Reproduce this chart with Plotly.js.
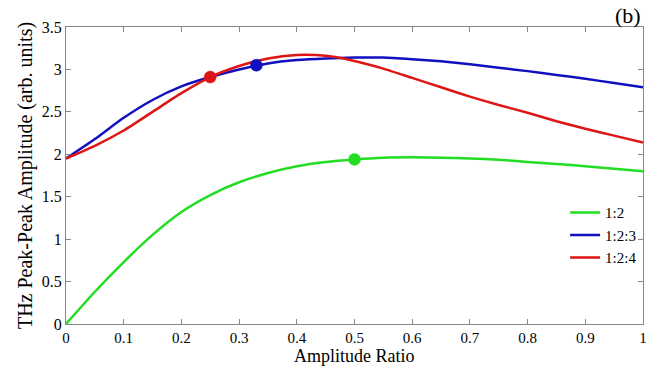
<!DOCTYPE html>
<html><head><meta charset="utf-8">
<script src="https://cdn.plot.ly/plotly-3.0.1.min.js"></script>
<style>html,body{margin:0;padding:0;background:#fff}#chart{width:669px;height:368px}</style>
</head><body><div id="chart"></div>
<script>
const ratio = [0,0.05,0.1,0.15,0.2,0.25,0.3,0.35,0.4,0.45,0.5,0.55,0.6,0.65,0.7,0.75,0.8,0.85,0.9,0.95,1.0];
const green12 = [0,0.38,0.73,1.05,1.32,1.52,1.67,1.78,1.86,1.91,1.94,1.96,1.965,1.96,1.95,1.935,1.91,1.885,1.86,1.83,1.80];
const blue123 = [1.95,2.18,2.43,2.64,2.80,2.91,3.00,3.07,3.11,3.13,3.14,3.14,3.12,3.095,3.06,3.02,2.98,2.935,2.89,2.84,2.79];
const red124 = [1.95,2.10,2.28,2.50,2.72,2.91,3.04,3.13,3.17,3.16,3.10,3.01,2.90,2.79,2.68,2.58,2.49,2.39,2.30,2.22,2.14];
const markX = [0.5,0.33,0.25];
const markY = [1.94,3.05,2.91];
const names = ['1:2','1:2:3','1:2:4'];
const colors = ['#22dd22','#1010c0','#dd1515'];
const series = [green12, blue123, red124];
const FONT = '"Liberation Serif", "Times New Roman", Times, serif';
const traces = [];
series.forEach((s,i)=>traces.push({x:ratio,y:s,name:names[i],mode:'lines',line:{color:colors[i],width:2.5,shape:'spline',smoothing:0.6}}));
series.forEach((s,i)=>traces.push({x:[markX[i]],y:[markY[i]],mode:'markers',showlegend:false,marker:{color:colors[i],size:12,line:{width:0.5,color:colors[i]}}}));
const ax = {showline:true,mirror:'ticks',linecolor:'#888',linewidth:1,ticks:'inside',ticklen:5,tickcolor:'#888',showgrid:false,zeroline:false,
  tickfont:{family:FONT,size:16,color:'#000'}};
Plotly.newPlot('chart',traces,{
  width:669,height:368,
  margin:{l:66,r:26,t:27,b:44},
  paper_bgcolor:'#fff',plot_bgcolor:'#fff',
  font:{family:FONT,color:'#000'},
  xaxis:Object.assign({},ax,{range:[0,1],dtick:0.1,tickfont:{family:FONT,size:15,color:'#000'}}),
  yaxis:Object.assign({},ax,{range:[0,3.5],dtick:0.5,title:{text:'THz Peak-Peak Amplitude (arb. units)',font:{family:FONT,size:20},standoff:3}}),
  showlegend:true,
  legend:{x:0.865,y:0.43,xanchor:'left',yanchor:'top',bgcolor:'rgba(0,0,0,0)',font:{family:FONT,size:15},tracegroupgap:0,itemwidth:30},
  annotations:[
    {text:'(b)',xref:'paper',yref:'paper',x:1.0,y:1.0,xanchor:'right',yanchor:'bottom',showarrow:false,font:{family:FONT,size:22},yshift:-3},
    {text:'Amplitude Ratio',xref:'paper',yref:'paper',x:0.5,y:0,yshift:-43,xanchor:'center',yanchor:'bottom',showarrow:false,borderpad:0,font:{family:FONT,size:18}}
  ]
},{displayModeBar:false,staticPlot:true});
</script></body></html>
